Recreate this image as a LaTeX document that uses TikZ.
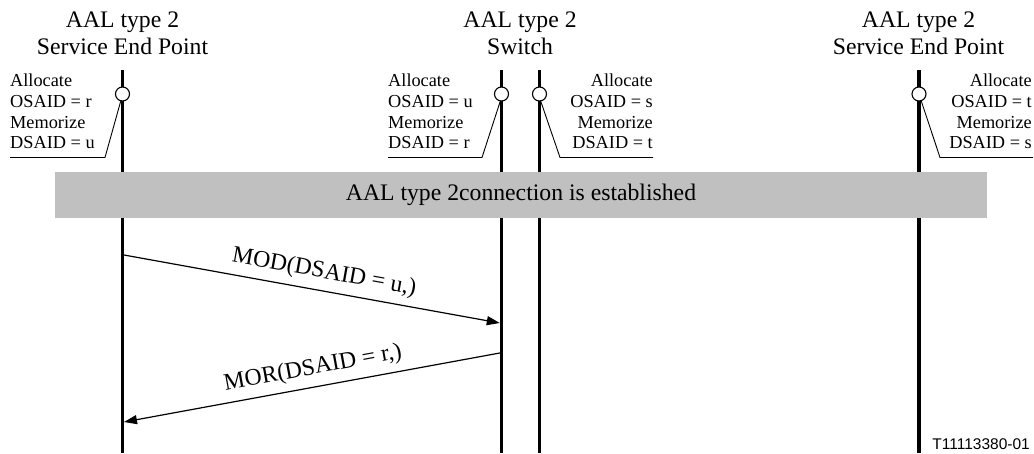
\documentclass[tikz,border=0pt]{standalone}
\usepackage{fontspec}
\setmainfont{Liberation Serif}
\newfontfamily\footfont{Liberation Sans}
\usetikzlibrary{arrows.meta}
\definecolor{bargray}{HTML}{C0C0C0}
\begin{document}
\begin{tikzpicture}[x=1pt,y=-1pt,
  lifeline/.style={line width=3.3pt},
  head/.style={font=\fontsize{23.7}{27}\selectfont, align=center, anchor=north, inner sep=0pt},
  note/.style={font=\fontsize{18.3}{20.6}\selectfont, inner sep=0pt},
  marker/.style={circle, draw, fill=white, line width=1.1pt, minimum size=14pt, inner sep=0pt},
  callout/.style={line width=0.9pt},
  msg/.style={line width=1.2pt, -{Triangle[length=13pt,width=9pt]}},
  msglabel/.style={font=\fontsize{23.7}{27}\selectfont, sloped, anchor=south, inner sep=0pt, yshift=7pt}
]
\useasboundingbox (0,0) rectangle (1034,453);

% headers
\node[head] (h1) at (122.5,12) {AAL type 2\\Service End Point};
\node[head] (h2) at (520,12) {AAL type 2\\Switch};
\node[head] (h3) at (918.5,12) {AAL type 2\\Service End Point};

% lifelines
\coordinate (a1) at (122.5,70);  \coordinate (b1) at (122.5,453);
\coordinate (a2) at (501.5,70);  \coordinate (b2) at (501.5,453);
\coordinate (a3) at (539.5,70);  \coordinate (b3) at (539.5,453);
\coordinate (a4) at (919,70);    \coordinate (b4) at (919,453);
\draw[lifeline] (a1) -- (b1);
\draw[lifeline] (a2) -- (b2);
\draw[lifeline] (a3) -- (b3);
\draw[lifeline] (a4) -- (b4);

% markers
\node[marker] (c1) at (122.5,94) {};
\node[marker] (c2) at (501.5,94) {};
\node[marker] (c3) at (539.5,94) {};
\node[marker] (c4) at (919,94) {};

% notes
\node[note, align=left, anchor=north west] (n1) at (10,74) {Allocate\\OSAID = r\\Memorize\\DSAID = u};
\node[note, align=left, anchor=north west] (n2) at (388,74) {Allocate\\OSAID = u\\Memorize\\DSAID = r};
\node[note, align=right, anchor=north east] (n3) at (653,74) {Allocate\\OSAID = s\\Memorize\\DSAID = t};
\node[note, align=right, anchor=north east] (n4) at (1032,74) {Allocate\\OSAID = t\\Memorize\\DSAID = s};

% callout lines
\coordinate (k1) at (105,157.5);  \coordinate (e1) at (10,157.5);
\coordinate (k2) at (482,157.5);  \coordinate (e2) at (388,157.5);
\coordinate (k3) at (560,157.5);  \coordinate (e3) at (653,157.5);
\coordinate (k4) at (940,157.5);  \coordinate (e4) at (1033,157.5);
\draw[callout] (c1.-104) -- (k1) -- (e1);
\draw[callout] (c2.-100) -- (k2) -- (e2);
\draw[callout] (c3.-80) -- (k3) -- (e3);
\draw[callout] (c4.-72) -- (k4) -- (e4);

% bar
\node[fill=bargray, minimum width=932pt, minimum height=46pt, inner sep=0pt,
      font=\fontsize{23.7}{27}\selectfont] (bar) at (521,195) {AAL type 2connection is established};

% messages
\coordinate (m1s) at (124,255);   \coordinate (m1e) at (499.8,323);
\coordinate (m2s) at (499.8,353); \coordinate (m2e) at (124,422);
\draw[msg] (m1s) -- node[msglabel, pos=0.524] (l1) {MOD(DSAID = u,)} (m1e);
\draw[msg] (m2s) -- node[msglabel, pos=0.488] (l2) {MOR(DSAID = r,)} (m2e);

% footer
\node[font=\footfont\fontsize{15.5}{18}\selectfont, anchor=base east, inner sep=0pt] (fn) at (1030,449) {T11113380-01};
\end{tikzpicture}
\end{document}
